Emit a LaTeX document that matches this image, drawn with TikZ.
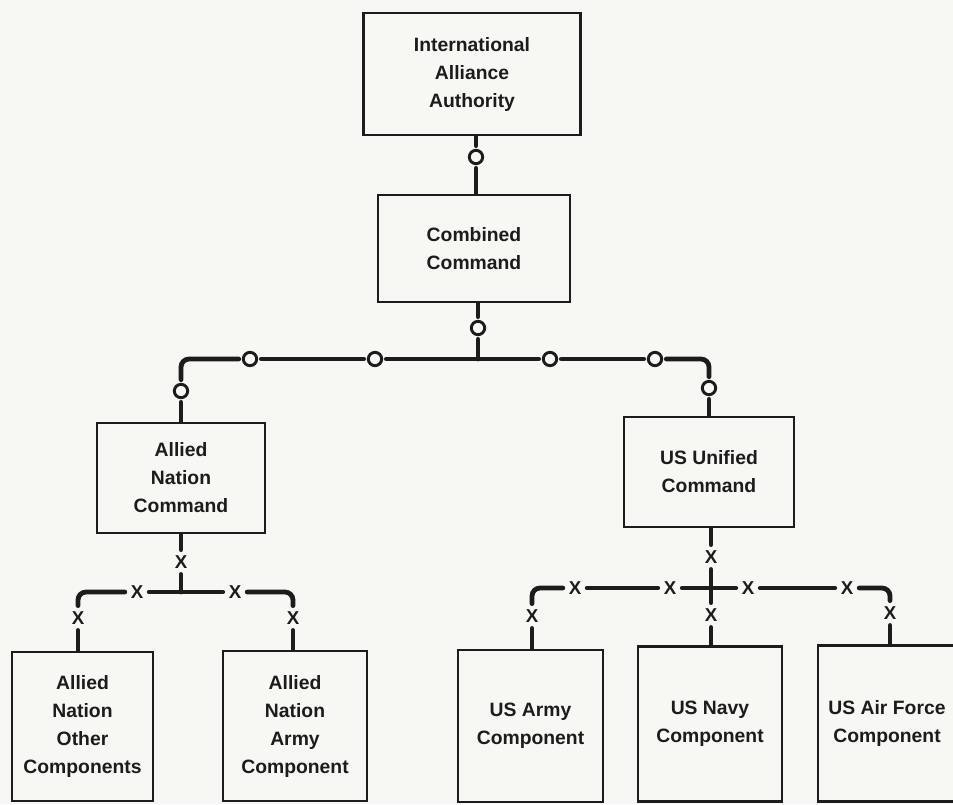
\documentclass[tikz,border=0pt]{standalone}
\usepackage{fontspec}
\setmainfont{Liberation Sans}
\usetikzlibrary{positioning}

\definecolor{inkc}{RGB}{28,28,28}
\definecolor{paperc}{RGB}{247,247,243}

\tikzset{every picture/.style={line width=0.75pt}}
\tikzset{
  unitbox/.style={draw=inkc, line width=2.2pt, align=center, text=inkc, inner sep=0pt,
    font=\bfseries\fontsize{14.5}{21}\selectfont},
  boxwh/.style 2 args={minimum width=#1*0.75pt, minimum height=#2*0.75pt},
  link/.style={draw=inkc, line width=3.6pt, line cap=round, rounded corners=6pt},
  ocirc/.style={circle, draw=inkc, line width=2.2pt, minimum size=10pt, inner sep=0pt, outer sep=3.5pt},
  xmark/.style={text=inkc, inner sep=1.5pt, outer sep=3pt, font=\bfseries\fontsize{14}{14}\selectfont}
}

\begin{document}
\begin{tikzpicture}[x=0.75pt,y=0.75pt,yscale=-1,xscale=1]
    % page
    \fill[paperc] (0,0) rectangle (953,804);
    \clip (0,0) rectangle (953,804);

    % Boxes
    \node[unitbox, boxwh={217}{122}] (iaa) at (472,74) {International\\Alliance\\Authority};
    \node[unitbox, boxwh={192}{107}] (cc) at (474,248.5) {Combined\\Command};
    \node[unitbox, boxwh={168}{110}] (anc) at (181,478) {Allied\\Nation\\Command};
    \node[unitbox, boxwh={170}{110}] (usuc) at (709,472) {US Unified\\Command};
    \node[unitbox, boxwh={141}{149}] (anoc) at (82.5,726.5) {Allied\\Nation\\Other\\Components};
    \node[unitbox, boxwh={144}{150}] (anac) at (295,726) {Allied\\Nation\\Army\\Component};
    \node[unitbox, boxwh={145}{152}] (usac) at (530.5,726) {US Army\\Component};
    \node[unitbox, boxwh={144}{155}] (usnc) at (710,724) {US Navy\\Component};
    \node[unitbox, boxwh={138}{156}] (usafc) at (887,723.5) {US Air Force\\Component};

    % Circle marks
    \node[ocirc] (o1) at (476,157) {};
    \node[ocirc] (o2) at (478,328) {};
    \node[ocirc] (oa) at (250,359) {};
    \node[ocirc] (ob) at (375,359) {};
    \node[ocirc] (oc) at (550,359) {};
    \node[ocirc] (od) at (655,359) {};
    \node[ocirc] (ocl) at (181,391) {};
    \node[ocirc] (ocr) at (709,388) {};
    \coordinate (jtop) at (478,359);

    % X marks, allied side
    \node[xmark] (xa0) at (181,562) {X};
    \node[xmark] (xa1) at (137,592) {X};
    \node[xmark] (xa2) at (235,592) {X};
    \node[xmark] (xa3) at (78,618) {X};
    \node[xmark] (xa4) at (293,618) {X};
    \coordinate (ja) at (181,592);

    % X marks, US side
    \node[xmark] (xb0) at (711,557) {X};
    \node[xmark] (xb1) at (575,588) {X};
    \node[xmark] (xb2) at (670,588) {X};
    \node[xmark] (xb3) at (748,588) {X};
    \node[xmark] (xb4) at (847,588) {X};
    \node[xmark] (xb5) at (532,616) {X};
    \node[xmark] (xb6) at (711,615) {X};
    \node[xmark] (xb7) at (890,613) {X};

    % Lines, top
    \draw[link] (o1 |- iaa.south) -- (o1);
    \draw[link] (o1) -- (o1 |- cc.north);
    \draw[link] (o2 |- cc.south) -- (o2);
    \draw[link] (o2) -- (jtop);
    \draw[link] (ob) -- (oc);
    \draw[link] (oa) -- (ob);
    \draw[link] (oc) -- (od);
    \draw[link] (oa) -| (ocl);
    \draw[link] (od) -| (ocr);
    \draw[link] (ocl) -- (anc);
    \draw[link] (ocr) -- (usuc);

    % Lines, allied side
    \draw[link] (anc) -- (xa0);
    \draw[link] (xa0) -- (ja);
    \draw[link] (xa1) -- (xa2);
    \draw[link] (xa1) -| (xa3);
    \draw[link] (xa2) -| (xa4);
    \draw[link] (xa3) -- (xa3 |- anoc.north);
    \draw[link] (xa4) -- (xa4 |- anac.north);

    % Lines, US side
    \draw[link] (xb0 |- usuc.south) -- (xb0);
    \draw[link] (xb0) -- (xb6);
    \draw[link] (xb1) -- (xb2);
    \draw[link] (xb2) -- (xb3);
    \draw[link] (xb3) -- (xb4);
    \draw[link] (xb1) -| (xb5);
    \draw[link] (xb4) -| (xb7);
    \draw[link] (xb5) -- (xb5 |- usac.north);
    \draw[link] (xb6) -- (xb6 |- usnc.north);
    \draw[link] (xb7) -- (xb7 |- usafc.north);
\end{tikzpicture}
\end{document}
